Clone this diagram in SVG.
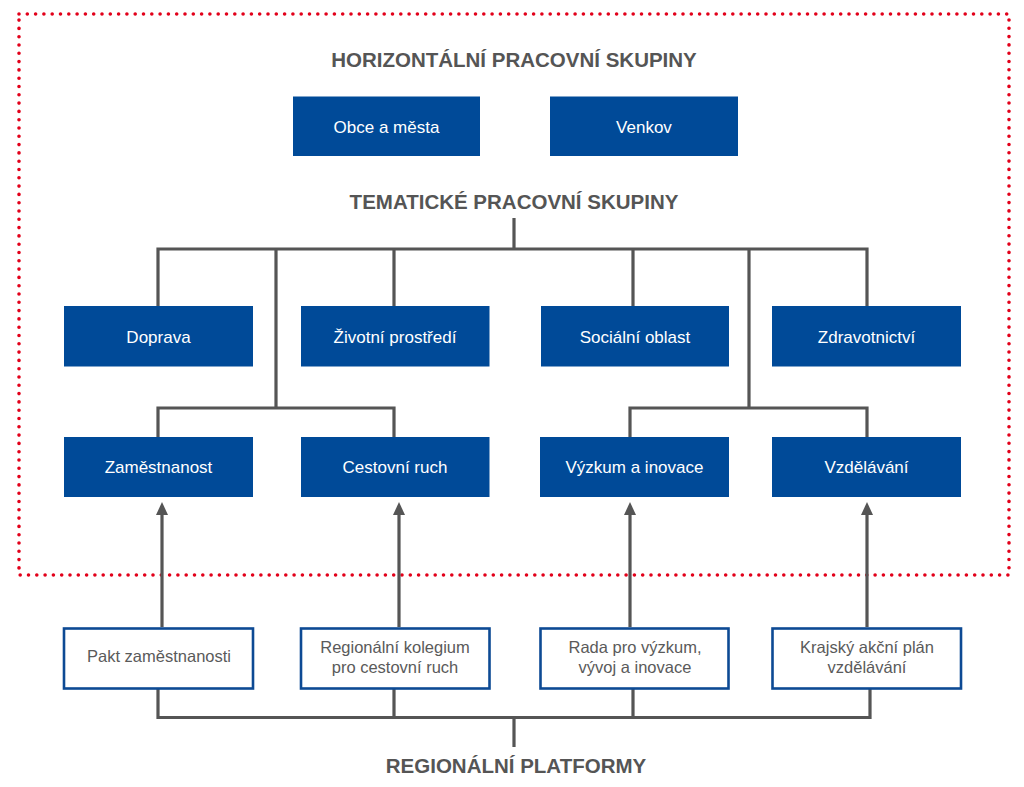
<svg xmlns="http://www.w3.org/2000/svg" width="1024" height="787" viewBox="0 0 1024 787">
<defs>
<style>
.bg{fill:#ffffff}
.frame{fill:none;stroke:#e2001a;stroke-width:3.6;stroke-dasharray:0 8.3;stroke-linecap:round}
.title{font-family:"Liberation Sans",Arial,sans-serif;font-weight:bold;font-size:20.5px;fill:#555555;text-anchor:middle}
.box{fill:#004a98}
.btxt{font-family:"Liberation Sans",Arial,sans-serif;font-size:17px;fill:#ffffff;text-anchor:middle}
.obox{fill:#ffffff;stroke:#0d4a94;stroke-width:2.6}
.otxt{font-family:"Liberation Sans",Arial,sans-serif;font-size:16.5px;fill:#5a5a5a;text-anchor:middle}
.ln{fill:none;stroke:#555555;stroke-width:3.2}
</style>
<marker id="ah" viewBox="0 0 13 12" refX="7" refY="6" markerWidth="13" markerHeight="12" markerUnits="userSpaceOnUse" orient="auto">
<path d="M0,0 L13,6 L0,12 Z" fill="#555555"/>
</marker>
</defs>
<rect class="bg" x="0" y="0" width="1024" height="787"/>
<rect class="frame" x="19" y="14" width="990" height="561"/>

<g id="titles">
<text class="title" x="514" y="66.5">HORIZONTÁLNÍ PRACOVNÍ SKUPINY</text>
<text class="title" x="514" y="209">TEMATICKÉ PRACOVNÍ SKUPINY</text>
<text class="title" x="516" y="772.5">REGIONÁLNÍ PLATFORMY</text>
</g>

<g id="connectors">
<path class="ln" d="M514,218 V249 M158,306 V249 H867 V306 M394,249 V306 M633,249 V306 M276,249 V408 M749,249 V408 M158,437 V408 H394 V437 M630,437 V408 H867 V437"/>
<path class="ln" d="M158,689 V717.5 H870 V689 M394,689 V717.5 M633,689 V717.5 M514,717.5 V747"/>
<line class="ln" x1="162" y1="627" x2="162" y2="508" marker-end="url(#ah)"/>
<line class="ln" x1="399" y1="627" x2="399" y2="508" marker-end="url(#ah)"/>
<line class="ln" x1="630" y1="627" x2="630" y2="508" marker-end="url(#ah)"/>
<line class="ln" x1="867" y1="627" x2="867" y2="508" marker-end="url(#ah)"/>
</g>

<g id="obce"><rect class="box" x="293" y="96.5" width="187" height="59.5"/><text class="btxt" x="386.5" y="132.5">Obce a města</text></g>
<g id="venkov"><rect class="box" x="550" y="96.5" width="188" height="59.5"/><text class="btxt" x="644" y="132.5">Venkov</text></g>

<g id="doprava"><rect class="box" x="64" y="306" width="189" height="60.5"/><text class="btxt" x="158.5" y="342.5">Doprava</text></g>
<g id="zivotni"><rect class="box" x="301" y="306" width="188.5" height="60.5"/><text class="btxt" x="395" y="342.5">Životní prostředí</text></g>
<g id="socialni"><rect class="box" x="541" y="306" width="188" height="60.5"/><text class="btxt" x="635" y="342.5">Sociální oblast</text></g>
<g id="zdravotnictvi"><rect class="box" x="772" y="306" width="189" height="60.5"/><text class="btxt" x="866.5" y="342.5">Zdravotnictví</text></g>

<g id="zamestnanost"><rect class="box" x="64" y="437" width="189" height="60"/><text class="btxt" x="158.5" y="473">Zaměstnanost</text></g>
<g id="cestovni"><rect class="box" x="301" y="437" width="188.5" height="60"/><text class="btxt" x="395" y="473">Cestovní ruch</text></g>
<g id="vyzkum"><rect class="box" x="540" y="437" width="189" height="60"/><text class="btxt" x="634.5" y="473">Výzkum a inovace</text></g>
<g id="vzdelavani"><rect class="box" x="772" y="437" width="189" height="60"/><text class="btxt" x="866.5" y="473">Vzdělávání</text></g>

<g id="pakt"><rect class="obox" x="64" y="628.5" width="189" height="60"/><text class="otxt" x="159" y="662">Pakt zaměstnanosti</text></g>
<g id="kolegium"><rect class="obox" x="301" y="628.5" width="188.5" height="60"/><text class="otxt" x="395" y="653">Regionální kolegium</text><text class="otxt" x="395" y="673">pro cestovní ruch</text></g>
<g id="rada"><rect class="obox" x="540.5" y="628.5" width="188" height="60"/><text class="otxt" x="635" y="653">Rada pro výzkum,</text><text class="otxt" x="635" y="673">vývoj a inovace</text></g>
<g id="krajsky"><rect class="obox" x="772.5" y="628.5" width="188.5" height="60"/><text class="otxt" x="867" y="653">Krajský akční plán</text><text class="otxt" x="867" y="673">vzdělávání</text></g>
</svg>
